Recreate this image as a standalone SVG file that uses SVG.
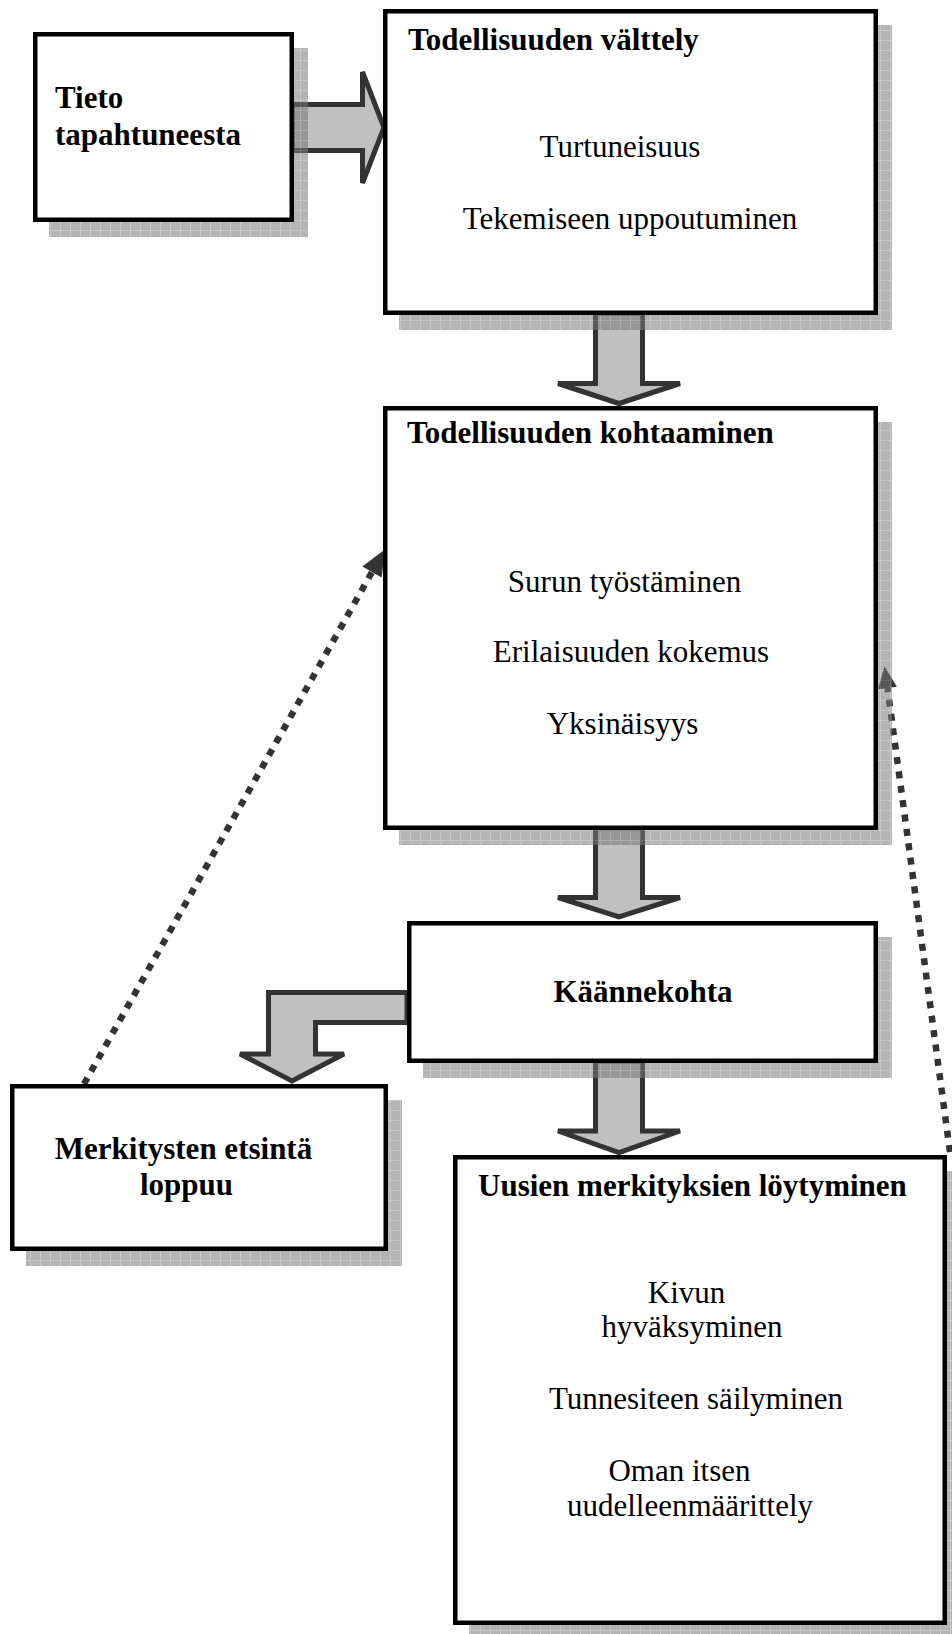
<svg xmlns="http://www.w3.org/2000/svg" width="952" height="1634" viewBox="0 0 952 1634">
<style>
.box{fill:#fff;stroke:#000;stroke-width:4.5}
.shadow{fill:url(#grid)}
.blk{fill:#c0c0c0;stroke:#333;stroke-width:5;stroke-linejoin:miter}
.dot{fill:none;stroke:#333;stroke-width:6.5;stroke-dasharray:7 7.5}
.head{fill:#333}
text{font-family:"Liberation Serif","Times New Roman",serif;font-size:31px;fill:#000}
.b{font-weight:bold}
.m{text-anchor:middle}
</style>
<defs>
<pattern id="grid" width="10" height="10" patternUnits="userSpaceOnUse">
<rect width="10" height="10" fill="#9b9b9b"/>
<rect x="1" y="1" width="9" height="9" fill="#777"/>
</pattern>
</defs>
<rect width="952" height="1634" fill="#fff"/>
<g id="connectors">
<polygon class="blk" points="292,104.5 362.5,104.5 362.5,72 384,127.5 362.5,183 362.5,150.5 292,150.5"/>
<polygon class="blk" points="595.5,313 595.5,383.5 558,383.5 619,403.5 680,383.5 642.5,383.5 642.5,313"/>
<polygon class="blk" points="595.5,828 595.5,897.5 558,897.5 619,917 680,897.5 642.5,897.5 642.5,828"/>
<polygon class="blk" points="595.5,1061 595.5,1131 558,1131 619,1152.5 680,1131 642.5,1131 642.5,1061"/>
<polygon class="blk" points="407,992.5 268.5,992.5 268.5,1054 240,1054 292,1081 344,1054 315.5,1054 315.5,1022.5 407,1022.5"/>
<line class="dot" x1="84" y1="1084" x2="372" y2="572"/>
<polygon class="head" points="384.9,549.4 362.3,566.5 381.7,577.5"/>
<line class="dot" x1="950" y1="1152" x2="887.5" y2="688"/>
<polygon class="head" points="884.5,666.2 878.1,689.3 896.9,686.7"/>
</g>
<g id="shadows" opacity="0.55">
<rect class="shadow" x="49" y="48" width="259" height="189"/>
<rect class="shadow" x="399" y="25" width="493" height="305"/>
<rect class="shadow" x="399" y="422" width="493" height="423"/>
<rect class="shadow" x="423" y="937" width="469" height="141"/>
<rect class="shadow" x="26" y="1100" width="376" height="166"/>
<rect class="shadow" x="469" y="1171" width="492" height="469"/>
</g>
<g id="tieto">
<rect class="box" x="35.25" y="34.25" width="256.5" height="185.5"/>
<text class="b" x="55" y="108">Tieto</text>
<text class="b" x="55" y="145">tapahtuneesta</text>
</g>
<g id="valttely">
<rect class="box" x="385.25" y="11.25" width="490.5" height="301.5"/>
<text class="b" x="408" y="50">Todellisuuden välttely</text>
<text class="m" x="620" y="157">Turtuneisuus</text>
<text class="m" x="630" y="229">Tekemiseen uppoutuminen</text>
</g>
<g id="kohtaaminen">
<rect class="box" x="385.25" y="408.25" width="490.5" height="419.5"/>
<text class="b" x="407" y="443">Todellisuuden kohtaaminen</text>
<text class="m" x="624.5" y="592">Surun työstäminen</text>
<text class="m" x="631" y="662">Erilaisuuden kokemus</text>
<text class="m" x="622.5" y="734">Yksinäisyys</text>
</g>
<g id="kaannekohta">
<rect class="box" x="409.25" y="923.25" width="466.5" height="137.5"/>
<text class="b m" x="643" y="1002">Käännekohta</text>
</g>
<g id="merkitysten">
<rect class="box" x="12.25" y="1086.25" width="373.5" height="162.5"/>
<text class="b m" x="183.5" y="1159">Merkitysten etsintä</text>
<text class="b m" x="186.5" y="1195">loppuu</text>
</g>
<g id="uusien">
<rect class="box" x="455.25" y="1157.25" width="489.5" height="465.5"/>
<text class="b" x="478" y="1196">Uusien merkityksien löytyminen</text>
<text class="m" x="686.5" y="1303">Kivun</text>
<text class="m" x="692" y="1337">hyväksyminen</text>
<text class="m" x="696" y="1409">Tunnesiteen säilyminen</text>
<text class="m" x="679.5" y="1481">Oman itsen</text>
<text class="m" x="690" y="1516">uudelleenmäärittely</text>
</g>
</svg>
